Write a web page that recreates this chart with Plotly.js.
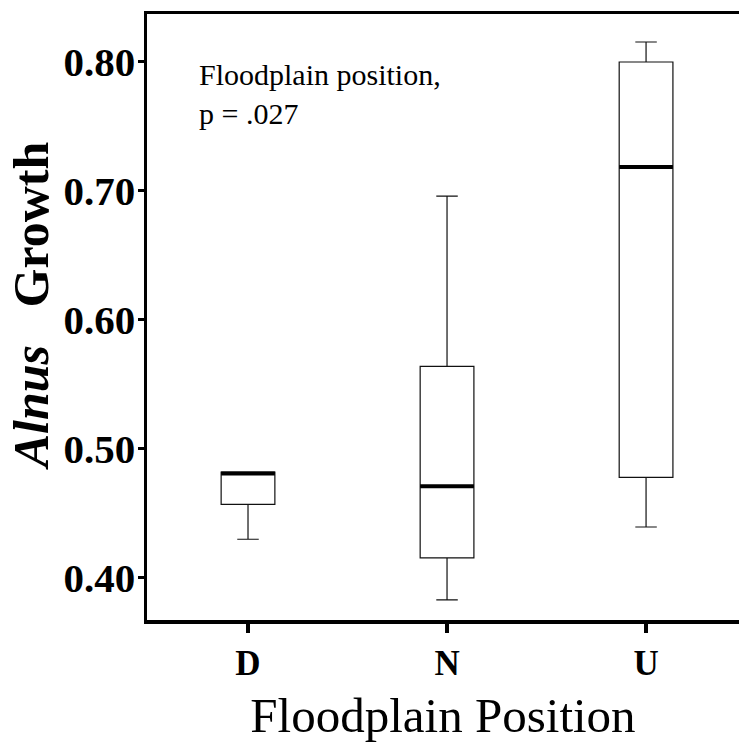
<!DOCTYPE html>
<html>
<head>
<meta charset="utf-8">
<script src="https://cdn.plot.ly/plotly-3.0.1.min.js"></script>
<style>html,body{margin:0;padding:0;background:#fff;overflow:hidden}</style>
</head>
<body>
<div id="chart" style="width:739px;height:749px"></div>
<script>
// Data
var categories = ['D', 'N', 'U'];
var lowerWhisker = [0.430, 0.383, 0.4395];
var q1Values     = [0.457, 0.4155, 0.478];
var medianValues = [0.481, 0.471, 0.7186];
var q3Values     = [0.482, 0.564, 0.800];
var upperWhisker = [0.482, 0.696, 0.8155];
var yTickValues  = [0.40, 0.50, 0.60, 0.70, 0.80];
var noteText = 'Floodplain position,<br>p = .027';

var positions = categories.map(function (c, i) { return i; });
var boxWidth = 0.27;

var traces = [];
categories.forEach(function (c, i) {
  traces.push({
    type: 'box',
    x: [positions[i]],
    q1: [q1Values[i]],
    median: [medianValues[i]],
    q3: [q3Values[i]],
    lowerfence: [lowerWhisker[i]],
    upperfence: [upperWhisker[i]],
    width: boxWidth,
    whiskerwidth: 0.4,
    fillcolor: 'rgba(0,0,0,0)',
    line: {color: '#111', width: 1.2},
    showlegend: false,
    hoverinfo: 'skip'
  });
  // thick median bar
  traces.push({
    type: 'scatter',
    mode: 'lines',
    x: [positions[i] - boxWidth / 2, positions[i] + boxWidth / 2],
    y: [medianValues[i], medianValues[i]],
    line: {color: '#000', width: 4},
    showlegend: false,
    hoverinfo: 'skip'
  });
});

var serif = '"Liberation Serif", "Times New Roman", serif';

var layout = {
  width: 739,
  height: 749,
  margin: {l: 147, r: 0, t: 14, b: 129},
  paper_bgcolor: '#fff',
  plot_bgcolor: '#fff',
  showlegend: false,
  xaxis: {
    range: [-0.5075, 2.467],
    tickmode: 'array',
    tickvals: positions,
    ticktext: categories.map(function (c) { return '<b>' + c + '</b>'; }),
    showline: true,
    linecolor: '#000',
    linewidth: 3.5,
    mirror: true,
    ticks: 'outside',
    ticklen: 9,
    tickwidth: 4,
    tickcolor: '#000',
    showgrid: false,
    zeroline: false,
    tickfont: {family: serif, size: 35, color: '#000'},
    title: {
      text: 'Floodplain Position',
      font: {family: serif, size: 49, color: '#000'},
      standoff: 17
    }
  },
  yaxis: {
    range: [0.3674, 0.8372],
    tickmode: 'array',
    tickvals: yTickValues,
    ticktext: yTickValues.map(function (v) { return '<b>' + v.toFixed(2) + '</b>'; }),
    showline: true,
    linecolor: '#000',
    linewidth: 3.5,
    ticks: 'outside',
    ticklen: 6,
    tickwidth: 3,
    tickcolor: '#000',
    ticklabelstandoff: -6,
    showgrid: false,
    zeroline: false,
    tickfont: {family: serif, size: 41, color: '#000'},
    title: {
      text: '<b>&nbsp;&nbsp;<i>Alnus</i>&nbsp;&nbsp; Growth</b>',
      font: {family: serif, size: 50, color: '#000'},
      standoff: 0
    }
  },
  annotations: [
    {
      xref: 'paper', yref: 'paper',
      x: 0.085, y: 0.93,
      xanchor: 'left', yanchor: 'top',
      align: 'left',
      text: noteText,
      showarrow: false,
      font: {family: serif, size: 30, color: '#000'}
    }
  ]
};

Plotly.newPlot('chart', traces, layout, {staticPlot: true, displayModeBar: false});
</script>
</body>
</html>
